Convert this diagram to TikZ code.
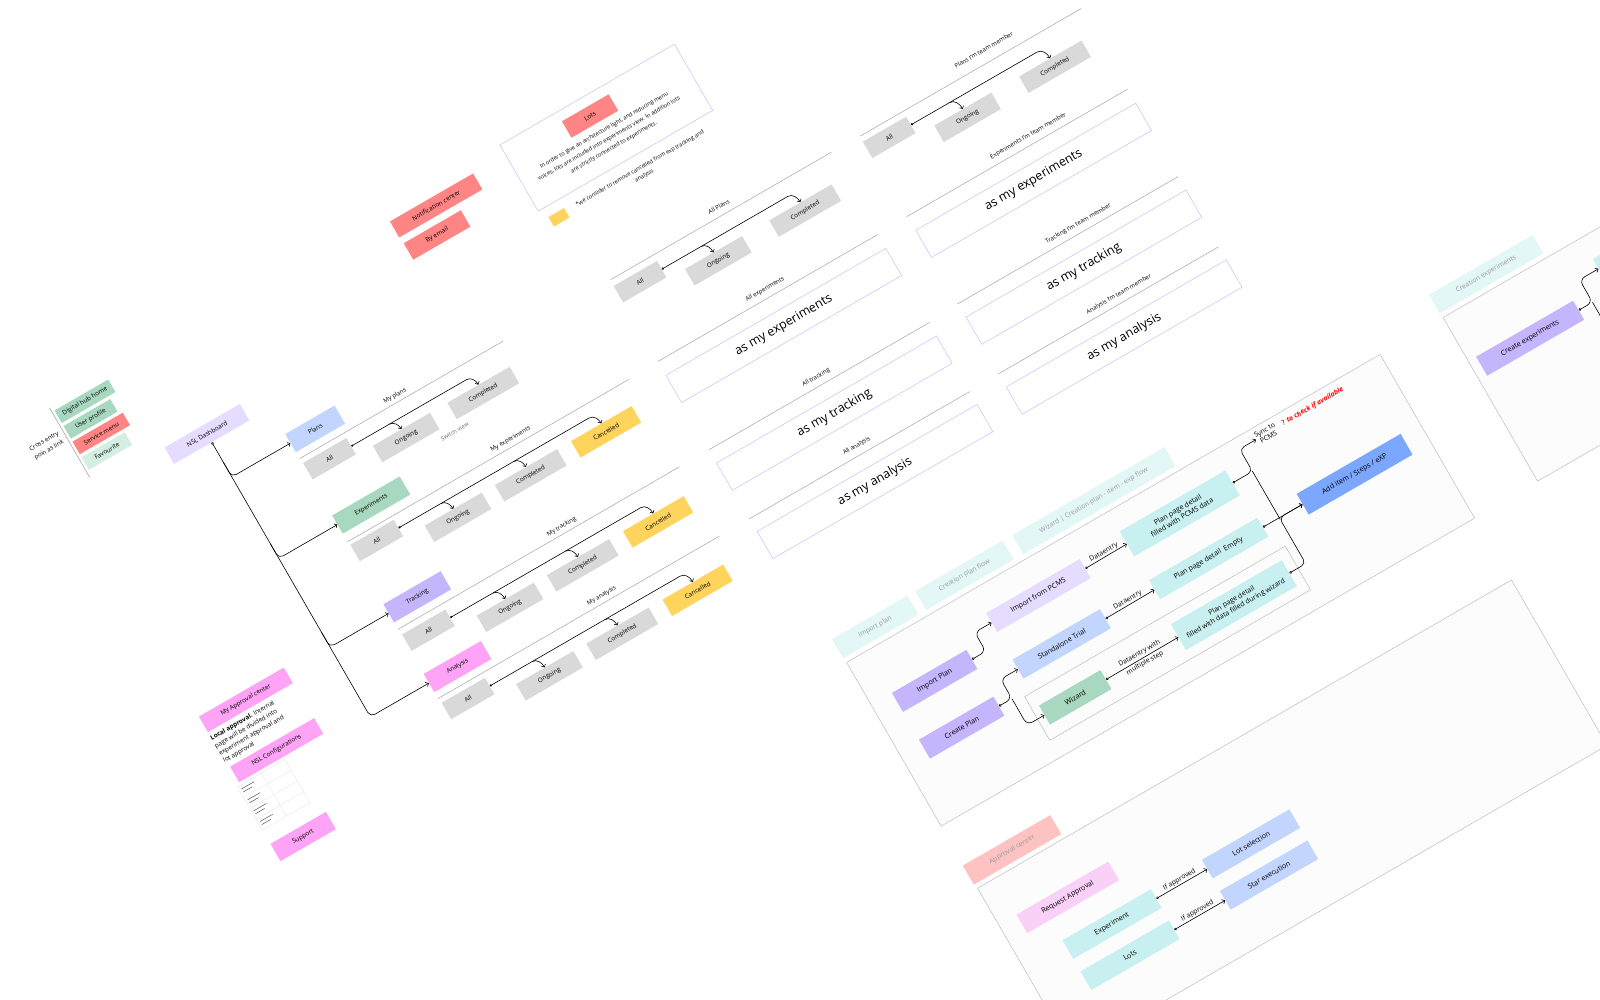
\documentclass[tikz,border=0pt]{standalone}
\usepackage{fontspec}
\setmainfont{Open Sans}
\usetikzlibrary{arrows.meta}
\definecolor{cGray}{HTML}{D9D9D9}
\definecolor{cBlue}{HTML}{C2D5FF}
\definecolor{cGreen}{HTML}{A8D8C0}
\definecolor{cPurple}{HTML}{C4B5FD}
\definecolor{cPink}{HTML}{FFA3F7}
\definecolor{cYellow}{HTML}{FFD45C}
\definecolor{cLav}{HTML}{E6DCFF}
\definecolor{cRed}{HTML}{FF8585}
\definecolor{cMint}{HTML}{D4EFE2}
\definecolor{cTab}{HTML}{E3F7F7}
\definecolor{cTabT}{HTML}{9C9C9C}
\definecolor{cCyan}{HTML}{C9F0F0}
\definecolor{cAdd}{HTML}{7BA7FF}
\definecolor{cRose}{HTML}{FFC2C2}
\definecolor{cReq}{HTML}{F9D0F7}
\definecolor{cSep}{HTML}{9E9E9E}
\definecolor{cOut}{HTML}{C5C0FF}
\definecolor{cCont}{HTML}{FCFCFC}
\definecolor{cBord}{HTML}{BDBDBD}
\definecolor{cFormB}{HTML}{E2E2E2}
\definecolor{cFormT}{HTML}{555555}
\definecolor{cSwitch}{HTML}{6E6E6E}
\tikzset{
  bx/.style={inner sep=0.5pt, align=center, font=\fontsize{6.3}{7.5}\selectfont},
  gbox/.style={bx, fill=cGray, minimum height=19pt},
  ybox/.style={bx, fill=cYellow, minimum height=19pt},
  cat/.style={bx, minimum height=21pt},
  lbl/.style={inner sep=0.5pt, font=\fontsize{6}{7}\selectfont},
  sepl/.style={draw=cSep, line width=0.45pt},
  conn/.style={line width=0.6pt, -{Straight Barb[length=2.2pt,width=4.6pt]}},
  dconn/.style={line width=0.6pt, {Circle[length=2.2pt]}-{Straight Barb[length=2.2pt,width=4.6pt]}},
  oconn/.style={line width=0.6pt, {Circle[open,length=2.6pt,width=2.6pt]}-{Straight Barb[length=2.4pt,width=4.8pt]}},
  bigbox/.style={draw=cOut, line width=0.5pt, minimum width=254pt, minimum height=31.5pt, inner sep=0, font=\fontsize{12.5}{14}\selectfont},
  tabx/.style={inner sep=0.5pt, fill=cTab, text=cTabT, minimum height=22pt, font=\fontsize{6.8}{8}\selectfont},
  contx/.style={fill=cCont, draw=cBord, line width=0.5pt, inner sep=0},
  wz/.style={inner sep=0.5pt, align=center, minimum height=22pt, font=\fontsize{7.2}{8.6}\selectfont},
  elbl/.style={inner sep=0.5pt, align=center, font=\fontsize{6.8}{8}\selectfont},
}
\begin{document}
\begin{tikzpicture}[x=1pt,y=1pt]
\path[fill=white] (0,0) rectangle (1600,-1000);
\useasboundingbox (0,0) rectangle (1600,-1000);
\begin{scope}[y=-1pt, rotate=30, transform shape]

% ---------- containers ----------
\node[contx, minimum width=616pt, minimum height=189pt] (wcont) at (710,1091.5) {};
\node[contx, minimum width=616.5pt, minimum height=191pt] (acont) at (710.75,1353.5) {};
\node[contx, minimum width=616pt, minimum height=189pt] (ccont) at (1399,1091) {};

% ---------- cross entry ----------
\draw[draw=cSep, line width=0.5pt] (-161,378) -- (-161,458);
\node[inner sep=0, align=center, font=\fontsize{6.2}{10}\selectfont] (cep) at (-182.5,409.5) {Cross entry\\poin as link};
\node[bx, fill=cGreen, minimum width=62pt, minimum height=14.5pt] (dhh) at (-127,390) {Digital hub home};
\node[bx, fill=cGreen, minimum width=54pt, minimum height=14.5pt] (upr) at (-131,408) {User profile};
\node[bx, fill=cRed, minimum width=58pt, minimum height=14.5pt] (smn) at (-129,426) {Service menu};
\node[bx, fill=cMint, minimum width=50pt, minimum height=14.5pt] (fav) at (-133,444) {Favourite};

% ---------- tree ----------
\node[bx, fill=cLav, minimum width=87pt, minimum height=19pt] (dash) at (-37.7,479.3) {NSL Dashboard};
\node[cat, fill=cBlue, minimum width=57pt] (plans) at (58.5,529) {Plans};
\node[cat, fill=cGreen, minimum width=78pt] (exps) at (69,623) {Experiments};
\node[cat, fill=cPurple, minimum width=66pt] (track) at (63,725.5) {Tracking};
\node[cat, fill=cPink, minimum width=66pt] (anal) at (63,806) {Analysis};
\draw[oconn, rounded corners=5] (dash.south) -- (-37.7,806) -- (anal.west);
\draw[conn, rounded corners=5] (-37.7,512) -- (-37.7,529) -- (plans.west);
\draw[conn, rounded corners=5] (-37.7,606) -- (-37.7,623) -- (exps.west);
\draw[conn, rounded corners=5] (-37.7,708) -- (-37.7,725.5) -- (track.west);

% row plans
\draw[sepl] (30,547) -- (265,547);
\node[lbl] (lp) at (144,540.5) {My plans};
\node[gbox, minimum width=50pt] (p1) at (56,562) {All};
\node[gbox, minimum width=66pt] (p2) at (133,582) {Ongoing};
\node[gbox, minimum width=72pt] (p3) at (222,582) {Completed};
\node[lbl, text=cSwitch, font=\fontsize{5.8}{7}\selectfont] (sv) at (178,601) {Switch view};
\draw[dconn] (p1.east) -- (214,562) to[out=0,in=90] (p3.north);
\draw[conn] (125,562) to[out=0,in=90] (p2.north);

% row experiments
\draw[sepl] (30,643) -- (355,643);
\node[lbl] (le) at (222.6,635.7) {My experiments};
\node[gbox, minimum width=50pt] (e1) at (56,656.5) {All};
\node[gbox, minimum width=66pt] (e2) at (138,677) {Ongoing};
\node[gbox, minimum width=72pt] (e3) at (222,677) {Completed};
\node[ybox, minimum width=70pt] (e4) at (309,677) {Cancelled};
\draw[dconn] (e1.east) -- (301,656.5) to[out=0,in=90] (e4.north);
\draw[conn] (130,656.5) to[out=0,in=90] (e2.north);
\draw[conn] (214,656.5) to[out=0,in=90] (e3.north);

% row tracking
\draw[sepl] (30,744) -- (355,744);
\node[lbl] (lt) at (223,737) {My tracking};
\node[gbox, minimum width=50pt] (t1) at (56,760) {All};
\node[gbox, minimum width=66pt] (t2) at (138,781) {Ongoing};
\node[gbox, minimum width=72pt] (t3) at (222,781) {Completed};
\node[ybox, minimum width=70pt] (t4) at (309,781) {Cancelled};
\draw[dconn] (t1.east) -- (301,760) to[out=0,in=90] (t4.north);
\draw[conn] (130,760) to[out=0,in=90] (t2.north);
\draw[conn] (214,760) to[out=0,in=90] (t3.north);

% row analysis
\draw[sepl] (30,824) -- (355,824);
\node[lbl] (la) at (223,817) {My analysis};
\node[gbox, minimum width=50pt] (a1) at (56,839) {All};
\node[gbox, minimum width=66pt] (a2) at (138,860) {Ongoing};
\node[gbox, minimum width=72pt] (a3) at (222,860) {Completed};
\node[ybox, minimum width=70pt] (a4) at (309,860) {Cancelled};
\draw[dconn] (a1.east) -- (301,839) to[out=0,in=90] (a4.north);
\draw[conn] (130,839) to[out=0,in=90] (a2.north);
\draw[conn] (214,839) to[out=0,in=90] (a3.north);

% ---------- all column ----------
\draw[sepl] (389,547.5) -- (644,547.5);
\node[lbl] (lap) at (519,538.5) {All Plans};
\node[gbox, minimum width=50pt] (q1) at (413.4,564) {All};
\node[gbox, minimum width=66pt] (q2) at (491.7,585) {Ongoing};
\node[gbox, minimum width=72pt] (q3) at (592,585) {Completed};
\draw[dconn] (q1.east) -- (584,564) to[out=0,in=90] (q3.north);
\draw[conn] (484,564) to[out=0,in=90] (q2.north);

\draw[sepl] (389,642) -- (643,642);
\node[lbl] (lae) at (518,633) {All experiments};
\node[bigbox] (aexp) at (516,673.7) {as my experiments};
\draw[sepl] (389,744) -- (644,744);
\node[lbl] (lat) at (518,735) {All tracking};
\node[bigbox] (atr) at (516,775) {as my tracking};
\draw[sepl] (389,824) -- (644,824);
\node[lbl] (laa) at (519,814.5) {All analysis};
\node[bigbox] (aan) at (517,854.5) {as my analysis};

% ---------- team column ----------
\draw[sepl] (677,548) -- (932,548);
\node[lbl] (ltp) at (827,535) {Plans I'm team member};
\node[gbox, minimum width=50pt] (r1) at (701.4,563.6) {All};
\node[gbox, minimum width=66pt] (r2) at (779.3,585.4) {Ongoing};
\node[gbox, minimum width=72pt] (r3) at (880.3,585.3) {Completed};
\draw[dconn] (r1.east) -- (872,563.6) to[out=0,in=90] (r3.north);
\draw[conn] (771,563.6) to[out=0,in=90] (r2.north);

\draw[sepl] (677,641) -- (932,641);
\node[lbl] (lte) at (822.5,632) {Experiments I'm team member};
\node[bigbox] (texp) at (805,673) {as my experiments};
\draw[sepl] (677,742) -- (932,742);
\node[lbl] (ltt) at (822,733) {Tracking I'm team member};
\node[bigbox] (ttr) at (805,773.3) {as my tracking};
\draw[sepl] (677.5,823) -- (932,823);
\node[lbl] (lta) at (822,814.3) {Analysis I'm team member};
\node[bigbox] (tan) at (805,854) {as my analysis};

% ---------- notification / lots ----------
\node[bx, fill=cRed, minimum width=96pt, minimum height=18.5pt] (nc) at (275,396) {Notification center};
\node[bx, fill=cRed, minimum width=66pt, minimum height=19pt] (em) at (261,422) {By email};
\node[draw=cOut, line width=0.5pt, minimum width=201.5pt, minimum height=76.5pt, inner sep=0] (lotsbox) at (461.25,413.75) {};
\node[bx, fill=cRed, minimum width=54pt, minimum height=19pt] (lots) at (453,395.5) {Lots};
\node[inner sep=0, align=center, font=\fontsize{5.6}{9.7}\selectfont] (lotstxt) at (458,424.8) {In order to give an architecture light, and reducing menu\\voices, lots are included into experiments view. In addition lots\\are strictly connected to experiments.};
\node[bx, fill=cYellow, minimum width=18pt, minimum height=11pt] (ysq) at (375.4,467.7) {};
\node[inner sep=0, align=center, font=\fontsize{5.6}{8.7}\selectfont] (note) at (470,470.3) {*we consider to remove cancelled from exp tracking and\\analysis};

% ---------- approval left ----------
\node[bx, fill=cPink, minimum width=98pt, minimum height=18pt] (apc) at (-137,729) {My Approval center};
\node[anchor=west, inner sep=0, align=left, font=\fontsize{6.3}{8.5}\selectfont] (apctxt) at (-187,758.5) {\textbf{Local approval.} Internal\\page will be divided into\\experiment approval and\\lot approval};
\node[bx, fill=cPink, minimum width=97pt, minimum height=18pt] (nslc) at (-135.5,788) {NSL Configurations};
\node[draw=cFormB, line width=0.3pt, minimum width=55pt, minimum height=50pt, inner sep=0] (form) at (-160.5,825) {};
\draw[cFormB, line width=0.3pt] (-160,800) -- (-160,850);
\foreach \vv in {812.5,825,837.5} \draw[cFormB, line width=0.3pt] (-188,\vv) -- (-133,\vv);
\foreach \vv in {800,812.5,825,837.5} {
  \draw[cFormT, line width=0.5pt] (-185.5,\vv+4) -- (-171,\vv+4);
  \draw[cFormT, line width=0.5pt] (-185.5,\vv+7.5) -- (-175,\vv+7.5);
}
\node[bx, fill=cPink, minimum width=64pt, minimum height=20pt] (sup) at (-155.7,876) {Support};

% ---------- wizard section ----------
\node[tabx, minimum width=87pt] (tb1) at (444.5,980.5) {Import plan};
\node[tabx, minimum width=101pt] (tb2) at (547.5,980.5) {Creation plan flow};
\node[tabx, minimum width=176pt] (tb3) at (697,980.5) {Wizard | Creation plan - item - exp flow};
\node[draw=cBord, line width=0.5pt, inner sep=0, minimum width=301pt, minimum height=50.4pt] (wsub) at (689.5,1140.8) {};
\node[wz, fill=cPurple, minimum width=86pt] (ip) at (469,1057) {Import Plan};
\node[wz, fill=cPurple, minimum width=86pt] (cp) at (469,1111) {Create Plan};
\node[wz, fill=cLav, minimum width=108pt] (ipc) at (601.5,1035) {Import from PCMS};
\node[wz, fill=cBlue, minimum width=101pt] (st) at (597.5,1088.5) {Standalone Trial};
\node[wz, fill=cGreen, minimum width=71pt] (wzd) at (582.5,1141.5) {Wizard};
\node[wz, fill=cCyan, minimum width=122pt, minimum height=29pt] (pd1) at (765,1034.5) {Plan page detail\\filled with PCMS data};
\node[wz, fill=cCyan, minimum width=125pt] (pd2) at (767.5,1088) {Plan page detail~~Empty};
\node[wz, fill=cCyan, minimum width=128pt, minimum height=30pt, font=\fontsize{7}{8.6}\selectfont] (pd3) at (766,1141) {Plan page detail\\filled with data filled during wizard};
\node[wz, fill=cAdd, minimum width=120pt, minimum height=24pt] (add) at (936,1088) {Add item / Steps / eXP};
\node[elbl] (sync) at (880,1008.7) {Sync to\\PCMS};
\node[elbl, anchor=west] (chk) at (898,1008.5) {? \textcolor{red}{\bfseries\itshape to check if available}};

\draw[oconn, rounded corners=6] (ip.east) -- (528,1057) -- (528,1035) -- (ipc.west);
\draw[oconn, rounded corners=6] (cp.east) -- (527,1111) -- (527,1088.5) -- (st.west);
\draw[conn, rounded corners=6] (527,1111) -- (527,1141.5) -- (wzd.west);
\draw[oconn] (ipc.east) -- node[elbl, above=0.5pt] (de1) {Dataentry} (pd1.west);
\draw[oconn] (st.east) -- node[elbl, above=0.5pt] (de2) {Dataentry} (pd2.west);
\draw[oconn] (wzd.east) -- node[elbl, font=\fontsize{6.8}{11}\selectfont] (de3) {Dataentry with\\multiple step} (pd3.west);
\draw[oconn, rounded corners=5] (pd1.east) -- (849,1034.5) -- (849,1008.7) -- (sync.west);
\draw[oconn, rounded corners=5] (pd3.east) -- (849,1141) -- (849,1088) -- (add.west);
\draw[oconn] (pd2.east) -- (add.west);
\draw[line width=0.6pt] (849,1034) -- (849,1090);

% ---------- approval center ----------
\node[tabx, fill=cRose, minimum width=101pt, font=\fontsize{7}{8}\selectfont] (tac) at (451.5,1242) {Approval center};
\node[wz, fill=cReq, minimum width=106pt, minimum height=21.5pt] (req) at (476,1311) {Request Approval};
\node[wz, fill=cCyan, minimum width=102pt, minimum height=21.5pt] (expa) at (501,1356.3) {Experiment};
\node[wz, fill=cCyan, minimum width=102pt, minimum height=21.5pt] (lotsa) at (501,1392.3) {Lots};
\node[wz, fill=cBlue, minimum width=101pt, minimum height=21.5pt] (lsel) at (661.5,1356.3) {Lot selection};
\node[wz, fill=cBlue, minimum width=101pt, minimum height=21.5pt] (sexe) at (661.5,1392.3) {Star execution};
\draw[oconn] (expa.east) -- node[elbl, above=0.5pt] (ia1) {If approved} (lsel.west);
\draw[oconn] (lotsa.east) -- node[elbl, above=0.5pt] (ia2) {If approved} (sexe.west);

% ---------- creation experiments ----------
\node[tabx, minimum width=120pt, minimum height=21.5pt] (tce) at (1150,980.5) {Creation experiments};
\node[wz, fill=cPurple, minimum width=112pt] (cex) at (1156,1058) {Create experiments};
\node[wz, fill=cCyan, minimum width=110pt] (ce1) at (1305,1032) {};
\coordinate (ce2) at (1250,1085);
\draw[oconn, rounded corners=6] (cex.east) -- (1228,1058) -- (1228,1032) -- (ce1.west);
\draw[conn, rounded corners=6] (1228,1058) -- (1228,1085) -- (ce2);

\end{scope}
\end{tikzpicture}
\end{document}
